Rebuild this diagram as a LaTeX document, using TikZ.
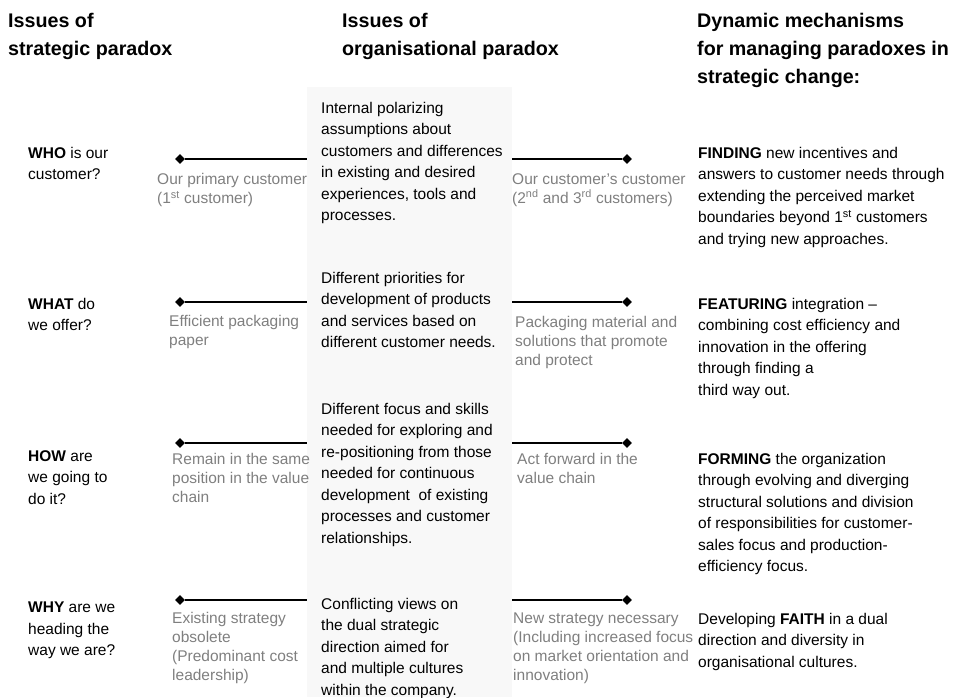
\documentclass[tikz,border=0pt]{standalone}
\usepackage{fontspec}
\setmainfont{Liberation Sans}
\usetikzlibrary{shapes.geometric}
\definecolor{labelgray}{HTML}{7F7F7F}
\definecolor{bandgray}{HTML}{F8F8F8}

\begin{document}
\begin{tikzpicture}[
  x=1pt, y=-1pt,
  head/.style={anchor=north west, inner sep=0pt, align=left, font=\fontsize{19.7}{28}\selectfont\bfseries},
  question/.style={anchor=north west, inner sep=0pt, align=left, font=\fontsize{15.5}{21.5}\selectfont},
  issue/.style={question},
  mech/.style={question},
  pole/.style={anchor=north west, inner sep=0pt, align=left, text=labelgray, font=\fontsize{15.5}{19}\selectfont},
  band/.style={fill=bandgray, inner sep=0pt, anchor=north west, minimum width=205pt, minimum height=610pt},
  tip/.style={diamond, fill=black, inner sep=0pt, minimum width=10pt, minimum height=10pt},
  link/.style={line width=2pt}
]
\useasboundingbox (0,0) rectangle (956,697);

% column of organisational issues
\node[band] (band) at (307,87) {};

% headings
\node[head] (hstrat) at (8,13) {Issues of\\strategic paradox};
\node[head] (horg) at (342,13) {Issues of\\organisational paradox};
\node[head] (hmech) at (697,13) {Dynamic mechanisms\\for managing paradoxes in\\strategic change:};

% questions
\node[question] (who) at (28,147) {\textbf{WHO} is our\\customer?};
\node[question] (what) at (28,298) {\textbf{WHAT} do\\we offer?};
\node[question] (how) at (28,450) {\textbf{HOW} are\\we going to\\do it?};
\node[question] (why) at (28,602) {\textbf{WHY} are we\\heading the\\way we are?};

% present poles
\node[pole] (who-l) at (157,173) {Our primary customer\\(1\textsuperscript{st} customer)};
\node[pole] (what-l) at (169,315) {Efficient packaging\\paper};
\node[pole] (how-l) at (172,453) {Remain in the same\\position in the value\\chain};
\node[pole] (why-l) at (172,612) {Existing strategy\\obsolete\\(Predominant cost\\leadership)};

% organisational issues
\node[issue] (who-m) at (321,102) {Internal polarizing\\assumptions about\\customers and differences\\in existing and desired\\experiences, tools and\\processes.};
\node[issue] (what-m) at (321,272) {Different priorities for\\development of products\\and services based on\\different customer needs.};
\node[issue] (how-m) at (321,403) {Different focus and skills\\needed for exploring and\\re-positioning from those\\needed for continuous\\development\ \ of existing\\processes and customer\\relationships.};
\node[issue] (why-m) at (321,598) {Conflicting views on\\the dual strategic\\direction aimed for\\and multiple cultures\\within the company.};

% desired poles
\node[pole] (who-r) at (512,173) {Our customer's customer\\(2\textsuperscript{nd} and 3\textsuperscript{rd} customers)};
\node[pole] (what-r) at (515,316) {Packaging material and\\solutions that promote\\and protect};
\node[pole] (how-r) at (517,453) {Act forward in the\\value chain};
\node[pole] (why-r) at (513,613) {New strategy necessary\\(Including increased focus\\on market orientation and\\innovation)};

% mechanisms
\node[mech] (find) at (698,147) {\textbf{FINDING} new incentives and\\answers to customer needs through\\extending the perceived market\\boundaries beyond 1\textsuperscript{st} customers\\and trying new approaches.};
\node[mech] (feat) at (698,298) {\textbf{FEATURING} integration --\\combining cost efficiency and\\innovation in the offering\\through finding a\\third way out.};
\node[mech] (form) at (698,453) {\textbf{FORMING} the organization\\through evolving and diverging\\structural solutions and division\\of responsibilities for customer-\\sales focus and production-\\efficiency focus.};
\node[mech] (faith) at (698,613) {Developing \textbf{FAITH} in a dual\\direction and diversity in\\organisational cultures.};

% poles and their links to the band
\node[tip] (who-lt) at (180,159) {};
\node[tip] (who-rt) at (627,159) {};
\node[tip] (what-lt) at (180,302) {};
\node[tip] (what-rt) at (627,302) {};
\node[tip] (how-lt) at (180,443) {};
\node[tip] (how-rt) at (627,443) {};
\node[tip] (why-lt) at (180,600) {};
\node[tip] (why-rt) at (627,600) {};

\coordinate (who-lb) at (band.west |- who-lt);
\coordinate (who-rb) at (band.east |- who-rt);
\coordinate (what-lb) at (band.west |- what-lt);
\coordinate (what-rb) at (band.east |- what-rt);
\coordinate (how-lb) at (band.west |- how-lt);
\coordinate (how-rb) at (band.east |- how-rt);
\coordinate (why-lb) at (band.west |- why-lt);
\coordinate (why-rb) at (band.east |- why-rt);

\draw[link] (who-lt) -- (who-lb);
\draw[link] (who-rb) -- (who-rt);
\draw[link] (what-lt) -- (what-lb);
\draw[link] (what-rb) -- (what-rt);
\draw[link] (how-lt) -- (how-lb);
\draw[link] (how-rb) -- (how-rt);
\draw[link] (why-lt) -- (why-lb);
\draw[link] (why-rb) -- (why-rt);
\end{tikzpicture}
\end{document}
